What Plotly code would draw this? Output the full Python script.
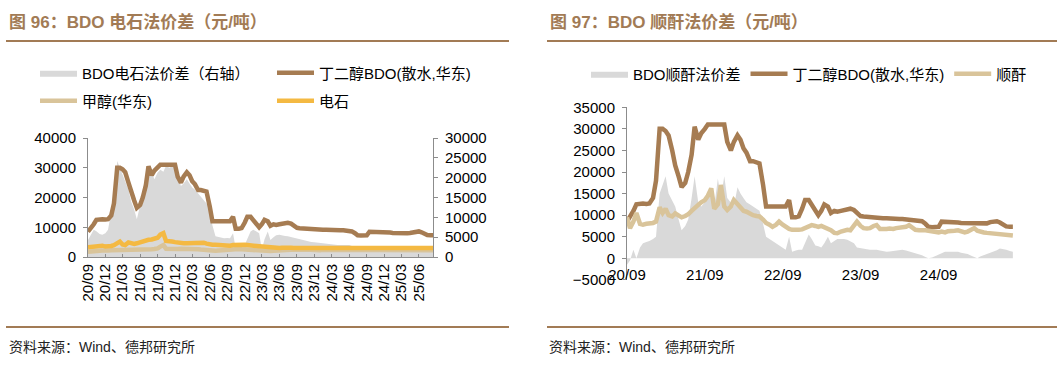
import pandas as pd
import plotly.graph_objects as go

# semi-monthly observation dates (1st and 15th), 2020-09 .. 2025-08
dates = pd.date_range("2020-09-01", periods=120, freq="SMS")

# 丁二醇BDO(散水,华东)
bdo = [8500, 9500, 11000, 12500, 12700, 12700, 12600, 12700, 14000, 18000,
       30000, 30000, 29500, 28500, 25000, 21500, 19000, 16500, 17500, 20000,
       24000, 30500, 27500, 29000, 30000, 31000, 31000, 31000, 31000, 31000,
       31000, 27000, 25000, 27000, 28500, 27500, 25500, 24500, 22500, 22500,
       22200, 22000, 17000, 12000, 12000, 12000, 12000, 12000, 12000, 12000,
       13500, 9500, 9500, 9700, 11500, 13500, 13500, 12500, 11000, 10000,
       11000, 12500, 12000, 10500, 11000, 10800, 11000, 11200, 11500, 11500,
       11200, 10500, 9800, 9700, 9600, 9500, 9400, 9400, 9300, 9300,
       9300, 9200, 9200, 9100, 9100, 9100, 9000, 9000, 9000, 8900,
       8900, 8600, 8000, 7300, 7200, 7200, 7300, 8500, 8500, 8400,
       8400, 8300, 8300, 8200, 8200, 8100, 8000, 8000, 8000, 8000,
       8000, 8100, 8400, 8600, 8600, 8300, 7700, 7400, 7300, 7300]

# BDO电石法价差 (right axis)
spread_carbide = [4300, 5500, 6900, 6500, 5800, 5600, 6000, 6900, 12000, 15300,
                  24200, 22500, 21000, 19000, 17000, 14000, 12000, 9500, 13000, 17000,
                  20400, 21000, 21300, 19600, 21300, 22000, 21500, 23000, 22500, 22800,
                  23000, 21000, 17900, 18500, 19600, 18500, 17500, 17000, 16000, 15300,
                  14500, 13500, 12800, 8000, 5200, 5000, 4800, 4700, 4800, 4700,
                  6000, 2200, 2800, 3000, 3000, 4500, 6400, 6900, 6500, 6000,
                  1800, 4500, 6400, 4300, 5000, 5500, 5600, 5400, 5300, 5200,
                  5000, 4900, 4700, 4500, 4300, 4000, 3900, 3800, 3700, 3600,
                  3500, 3400, 3300, 3200, 3100, 3000, 3000, 3000, 3000, 3000,
                  3000, 2800, 2600, 2400, 2200, 2200, 2300, 2200, 2100, 2200,
                  2300, 2200, 2200, 2100, 2200, 2300, 2200, 2200, 2100, 2200,
                  2300, 2400, 2300, 2200, 2300, 2400, 2300, 2200, 2200, 2200]

# 甲醇(华东)
methanol = [1800, 1800, 1900, 2000, 2100, 2200, 2100, 2200, 2300, 2300,
            2400, 2400, 2300, 2300, 2300, 2400, 2400, 2400, 2500, 2500,
            2500, 2600, 2600, 2700, 2900, 3500, 4000, 2800, 2700, 2600,
            2600, 2700, 2800, 2800, 2900, 2800, 2700, 2600, 2600, 2500,
            2500, 2400, 2300, 2200, 2100, 2200, 2300, 2400, 2500, 2600,
            2600, 2700, 2700, 2600, 2500, 2400, 2400, 2300, 2200, 2100,
            2000, 2000, 1900, 2000, 2100, 2200, 2300, 2400, 2500, 2400,
            2400, 2400, 2300, 2400, 2400, 2500, 2400, 2400, 2300, 2300,
            2300, 2400, 2400, 2300, 2300, 2300, 2200, 2200, 2200, 2300,
            2300, 2300, 2200, 2200, 2300, 2400, 2400, 2300, 2400, 2400,
            2400, 2300, 2300, 2400, 2400, 2400, 2300, 2300, 2300, 2300,
            2300, 2300, 2300, 2300, 2300, 2300, 2300, 2300, 2300, 2300]

# 电石
carbide = [3300, 3400, 3500, 3800, 4000, 3800, 3500, 3500, 3700, 4000,
           4800, 5200, 4200, 4000, 4900, 4600, 4400, 4600, 5000, 5200,
           5600, 5800, 5900, 6000, 6500, 7500, 8000, 5400, 5400, 5200,
           5000, 4800, 4700, 4600, 4600, 4600, 4600, 4700, 4800, 4900,
           4800, 4500, 4200, 4100, 4100, 4000, 4000, 3800, 3700, 3800,
           4000, 4100, 4100, 4100, 4100, 4000, 3900, 3600, 3500, 3500,
           3400, 3300, 3200, 3000, 2900, 2900, 3000, 3100, 3200, 3200,
           3100, 3000, 3000, 3000, 2900, 2900, 2900, 2900, 2900, 2900,
           2900, 2900, 2900, 2900, 2900, 2900, 2900, 2900, 2900, 2900,
           2900, 2900, 2900, 2900, 3000, 3000, 3000, 3000, 3000, 3000,
           3000, 3000, 3000, 3000, 3000, 3000, 3000, 3000, 3000, 3000,
           3000, 3000, 3000, 3000, 3000, 3000, 3000, 3000, 3000, 3000]

# 顺酐
maleic = [9500, 7000, 8500, 10500, 8000, 7800, 8000, 8000, 8200, 8500,
          11800, 10500, 11500, 10000, 9700, 10400, 10000, 9500, 9800, 10200,
          11000, 11500, 12400, 13000, 13500, 14500, 16200, 11500, 12500, 17000,
          12000, 11200, 12000, 13500, 12500, 12000, 11000, 10800, 10300, 10000,
          9800, 9700, 9000, 8200, 7800, 7300, 7800, 8500, 7800, 7300,
          6800, 6600, 6500, 6600, 6700, 7000, 7500, 7700, 7500, 7300,
          7500, 7200, 7000, 6500, 5900, 5800, 6200, 6500, 6600, 6500,
          7500, 8500, 7500, 7000, 6900, 7000, 7500, 7700, 6800, 6700,
          6800, 6900, 6800, 7000, 7100, 7000, 7300, 7700, 7000, 6600,
          6500, 6600, 6500, 6400, 6200, 6100, 6000, 6200, 6000, 6300,
          6500, 6400, 6500, 6200, 6000, 6200, 6600, 7000, 6400, 6100,
          6000, 5900, 5800, 5800, 5700, 5600, 5500, 5400, 5300, 5300]

# BDO顺酐法价差
spread_maleic = [-1500, -500, 2000, 0, 2500, 3500, 3800, 4000, 4500, 5000,
                 15000, 17000, 19000, 15000, 13500, 12000, 9000, 6500, 7500, 9000,
                 14000, 19000, 13000, 12000, 13000, 14000, 15000, 12000, 18500, 14000,
                 19000, 14000, 13000, 12000, 16500, 15000, 14000, 13000, 12500, 12000,
                 11500, 11000, 8000, 5000, 4500, 4000, 3500, 3000, 2500, 2000,
                 5000, 1500, 1800, 2000, 2000, 3500, 5500, 4500, 3000, 2800,
                 2500, 3500, 5000, 3500, 4000, 4500, 4500, 4500, 4300, 4000,
                 3500, 2500, 2300, 2200, 2100, 2000, 2000, 2000, 1800, 1600,
                 1500, 1600, 1700, 1800, 1900, 2000, 1800, 1600, 1500, 1200,
                 1000, 700, 300, 0, 200, 500, 900, 1200, 1500, 1500,
                 1500, 1500, 1500, 1300, 1100, 1000, 600, 200, 0, 400,
                 800, 1000, 1300, 1500, 1900, 2300, 2200, 2000, 1700, 1500]

left_ticks = pd.date_range("2020-09-01", "2025-06-01", freq="3MS")
right_ticks = pd.date_range("2020-09-01", "2024-09-01", freq="12MS")

BROWN = "#A67C52"
TAN = "#D9C49A"
YELLOW = "#F4B942"
GREY = "#D9D9D9"
TITLE = "#A27B55"
AXIS = "#8C8C8C"
FONT = "Liberation Sans, Noto Sans CJK SC, sans-serif"
H, W = 369, 1063

def py(px):
    return 1 - px / H

def pxx(px):
    return px / W

fig = go.Figure()

# ---- left chart ----
fig.add_trace(go.Scatter(x=dates, y=spread_carbide, name="BDO电石法价差（右轴）",
                         mode="lines", line=dict(width=0, color=GREY), fill="tozeroy",
                         fillcolor=GREY, xaxis="x", yaxis="y", legend="legend"))
fig.add_trace(go.Scatter(x=dates, y=bdo, name="丁二醇BDO(散水,华东)", mode="lines",
                         line=dict(width=4.5, color=BROWN), xaxis="x", yaxis="y2",
                         legend="legend"))
fig.add_trace(go.Scatter(x=dates, y=methanol, name="甲醇(华东)", mode="lines",
                         line=dict(width=4.5, color=TAN), xaxis="x", yaxis="y2",
                         legend="legend2"))
fig.add_trace(go.Scatter(x=dates, y=carbide, name="电石", mode="lines",
                         line=dict(width=4.5, color=YELLOW), xaxis="x", yaxis="y2",
                         legend="legend2"))

# ---- right chart ----
fig.add_trace(go.Scatter(x=dates, y=spread_maleic, name="BDO顺酐法价差", mode="lines",
                         line=dict(width=0, color=GREY), fill="tozeroy", fillcolor=GREY,
                         xaxis="x2", yaxis="y3", legend="legend3"))
fig.add_trace(go.Scatter(x=dates, y=bdo, name="丁二醇BDO(散水,华东)", mode="lines",
                         line=dict(width=4.5, color=BROWN), xaxis="x2", yaxis="y3",
                         legend="legend3"))
fig.add_trace(go.Scatter(x=dates, y=maleic, name="顺酐", mode="lines",
                         line=dict(width=4.5, color=TAN), xaxis="x2", yaxis="y3",
                         legend="legend3"))

tickfont = dict(family=FONT, size=15, color="#000000")
legfont = dict(family=FONT, size=15, color="#000000")

left_dom_x = [pxx(88), pxx(433)]
left_dom_y = [py(257), py(138)]
right_dom_x = [pxx(627), pxx(1015)]
right_dom_y = [py(279.9), py(107.3)]
zero_pos = py(258.3)

fig.update_layout(
    width=W, height=H, margin=dict(l=0, r=0, t=0, b=0),
    paper_bgcolor="white", plot_bgcolor="rgba(0,0,0,0)",
    font=dict(family=FONT, size=15, color="#000000"),
    xaxis=dict(domain=left_dom_x, anchor="y", type="date", automargin=False,
               range=["2020-09-01", "2025-08-14"],
               tickvals=left_ticks, tickformat="%y/%m", tickangle=-90,
               ticks="inside", ticklen=3, tickcolor=AXIS,
               showline=True, linecolor=AXIS, linewidth=1, showgrid=False,
               zeroline=False, tickfont=tickfont),
    yaxis=dict(domain=left_dom_y, anchor="x", side="right", range=[0, 30000],
               automargin=False,
               dtick=5000, tickformat="d", showline=True, linecolor=AXIS, linewidth=1,
               ticks="outside", ticklen=4, tickcolor=AXIS, showgrid=False,
               zeroline=False, tickfont=tickfont, ticklabelstandoff=4),
    yaxis2=dict(overlaying="y", anchor="x", side="left", range=[0, 40000],
                automargin=False,
                dtick=10000, tickformat="d", showline=True, linecolor=AXIS, linewidth=1,
                ticks="outside", ticklen=4, tickcolor=AXIS, showgrid=False,
                zeroline=False, tickfont=tickfont, ticklabelstandoff=4),
    xaxis2=dict(domain=right_dom_x, anchor="free", position=zero_pos, type="date",
                automargin=False,
                range=["2020-09-01", "2025-08-25"],
                tickvals=right_ticks, tickformat="%y/%m", tickangle=0,
                ticks="", showline=False, showgrid=False, zeroline=False,
                tickfont=tickfont, ticklabelstandoff=6),
    yaxis3=dict(domain=right_dom_y, anchor="x2", range=[-5000, 35000], dtick=5000,
                automargin=False,
                tickformat="d", showline=True, linecolor=AXIS, linewidth=1,
                ticks="outside", ticklen=4, tickcolor=AXIS, showgrid=False,
                zeroline=False, tickfont=tickfont, ticklabelstandoff=4),
    legend=dict(orientation="h", x=pxx(35), xanchor="left", y=py(73), yanchor="middle",
                entrywidth=185, entrywidthmode="pixels", itemwidth=37,
                font=legfont, bgcolor="rgba(0,0,0,0)", traceorder="normal"),
    legend2=dict(orientation="h", x=pxx(35), xanchor="left", y=py(101), yanchor="middle",
                 entrywidth=185, entrywidthmode="pixels", itemwidth=37,
                 font=legfont, bgcolor="rgba(0,0,0,0)", traceorder="normal"),
    legend3=dict(orientation="h", x=pxx(586), xanchor="left", y=py(74), yanchor="middle",
                 itemwidth=37, font=legfont, bgcolor="rgba(0,0,0,0)",
                 traceorder="normal"),
    showlegend=True,
)

shapes = []
for x0, x1 in [(6, 509), (547, 1057)]:
    for yy in (41, 327):
        shapes.append(dict(type="line", xref="paper", yref="paper",
                           x0=pxx(x0), x1=pxx(x1), y0=py(yy), y1=py(yy),
                           line=dict(color=TITLE, width=2)))
fig.update_layout(shapes=shapes)

annotations = [
    dict(text="<b>图 96：BDO 电石法价差（元/吨）</b>", x=pxx(7), y=py(22),
         xanchor="left", yanchor="middle", font=dict(family=FONT, size=17, color=TITLE)),
    dict(text="<b>图 97：BDO 顺酐法价差（元/吨）</b>", x=pxx(548), y=py(22),
         xanchor="left", yanchor="middle", font=dict(family=FONT, size=17, color=TITLE)),
    dict(text="资料来源：Wind、德邦研究所", x=pxx(7), y=py(347),
         xanchor="left", yanchor="middle", font=dict(family=FONT, size=14, color="#222222")),
    dict(text="资料来源：Wind、德邦研究所", x=pxx(547), y=py(347),
         xanchor="left", yanchor="middle", font=dict(family=FONT, size=14, color="#222222")),
]
for a in annotations:
    a.update(xref="paper", yref="paper", showarrow=False)
fig.update_layout(annotations=annotations)

fig.write_html("out.html")
